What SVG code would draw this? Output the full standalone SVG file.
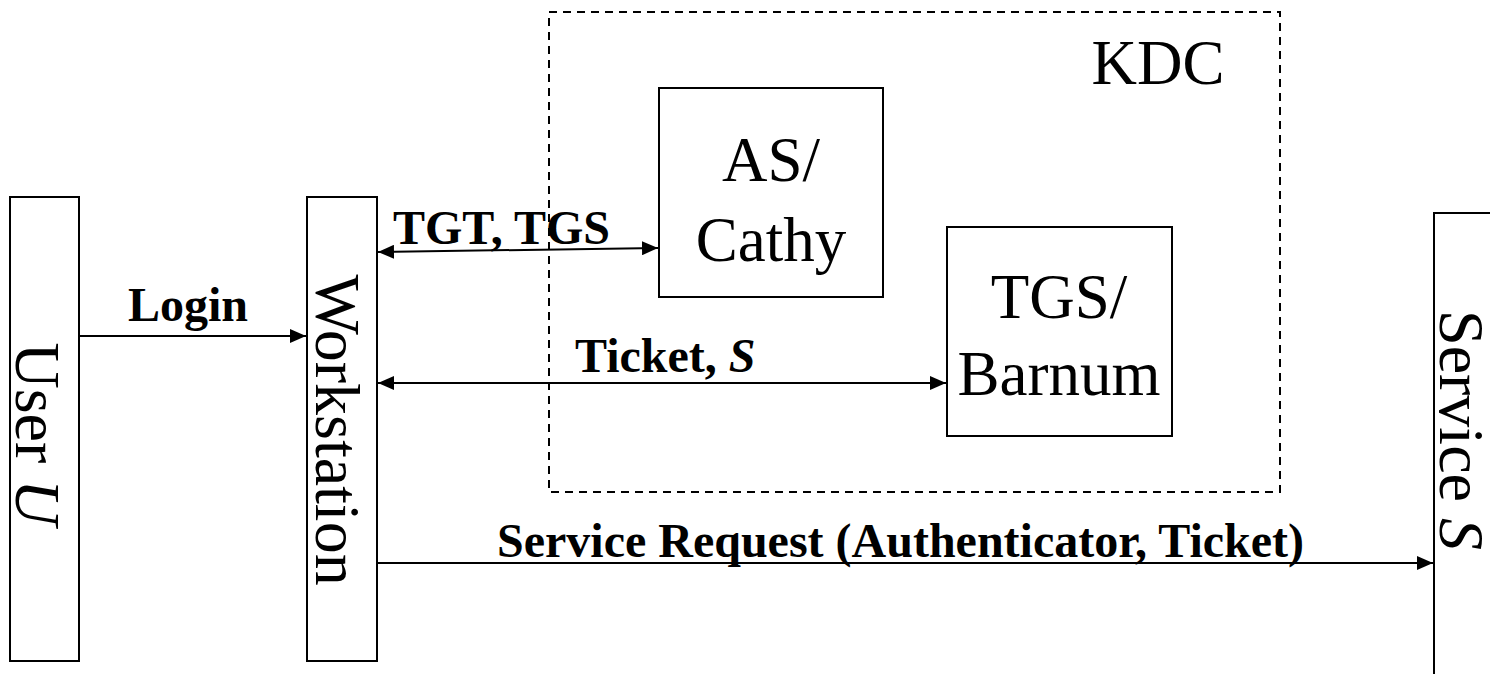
<svg xmlns="http://www.w3.org/2000/svg" width="1490" height="674" viewBox="0 0 1490 674">
<style>
.box{fill:#fff;stroke:#000;stroke-width:2}
.big{font-family:'Liberation Serif',serif;font-size:63px;fill:#000}
.rot{font-family:'Liberation Serif',serif;font-size:64px;fill:#000}
.lbl{font-family:'Liberation Serif',serif;font-size:48px;font-weight:bold;fill:#000}
.conn{stroke:#000;stroke-width:2;fill:none}
</style>
<defs>
<marker id="ah" markerWidth="16" markerHeight="14" refX="16" refY="7" orient="auto" markerUnits="userSpaceOnUse">
<path d="M0,0 L16,7 L0,14 Z" fill="#000"/>
</marker>
<marker id="ahs" markerWidth="16" markerHeight="14" refX="16" refY="7" orient="auto-start-reverse" markerUnits="userSpaceOnUse">
<path d="M0,0 L16,7 L0,14 Z" fill="#000"/>
</marker>
</defs>
<g id="kdc">
<rect x="549" y="12" width="731" height="480" fill="none" stroke="#000" stroke-width="2" stroke-dasharray="8,6"/>
<text class="big" x="1158" y="84" text-anchor="middle">KDC</text>
</g>
<g id="user">
<rect class="box" x="10" y="197" width="69" height="464"/>
<text class="rot" transform="translate(16,434) rotate(90)" text-anchor="middle">User <tspan font-style="italic">U</tspan></text>
</g>
<g id="workstation">
<rect class="box" x="307" y="197" width="70" height="464"/>
<text class="rot" transform="translate(316,430) rotate(90)" text-anchor="middle">Workstation</text>
</g>
<g id="service">
<rect class="box" x="1434" y="213" width="80" height="480"/>
<text class="rot" transform="translate(1440,430) rotate(90)" text-anchor="middle">Service <tspan font-style="italic">S</tspan></text>
</g>
<g id="as">
<rect class="box" x="659" y="88" width="224" height="209"/>
<text class="big" x="771" y="181" text-anchor="middle">AS/</text>
<text class="big" x="771" y="261" text-anchor="middle">Cathy</text>
</g>
<g id="tgs">
<rect class="box" x="947" y="227" width="225" height="209"/>
<text class="big" x="1059" y="318" text-anchor="middle">TGS/</text>
<text class="big" x="1059" y="395" text-anchor="middle">Barnum</text>
</g>
<g id="connectors">
<line class="conn" x1="79" y1="336" x2="306" y2="336" marker-end="url(#ah)"/>
<line class="conn" x1="378" y1="252" x2="658" y2="248" marker-start="url(#ahs)" marker-end="url(#ah)"/>
<line class="conn" x1="378" y1="383" x2="946" y2="383" marker-start="url(#ahs)" marker-end="url(#ah)"/>
<line class="conn" x1="377" y1="563" x2="1433" y2="563" marker-end="url(#ah)"/>
<text class="lbl" x="128" y="321">Login</text>
<text class="lbl" x="393" y="244">TGT, TGS</text>
<text class="lbl" x="575" y="372">Ticket, <tspan font-style="italic">S</tspan></text>
<text class="lbl" x="497" y="557">Service Request (Authenticator, Ticket)</text>
</g>
</svg>
